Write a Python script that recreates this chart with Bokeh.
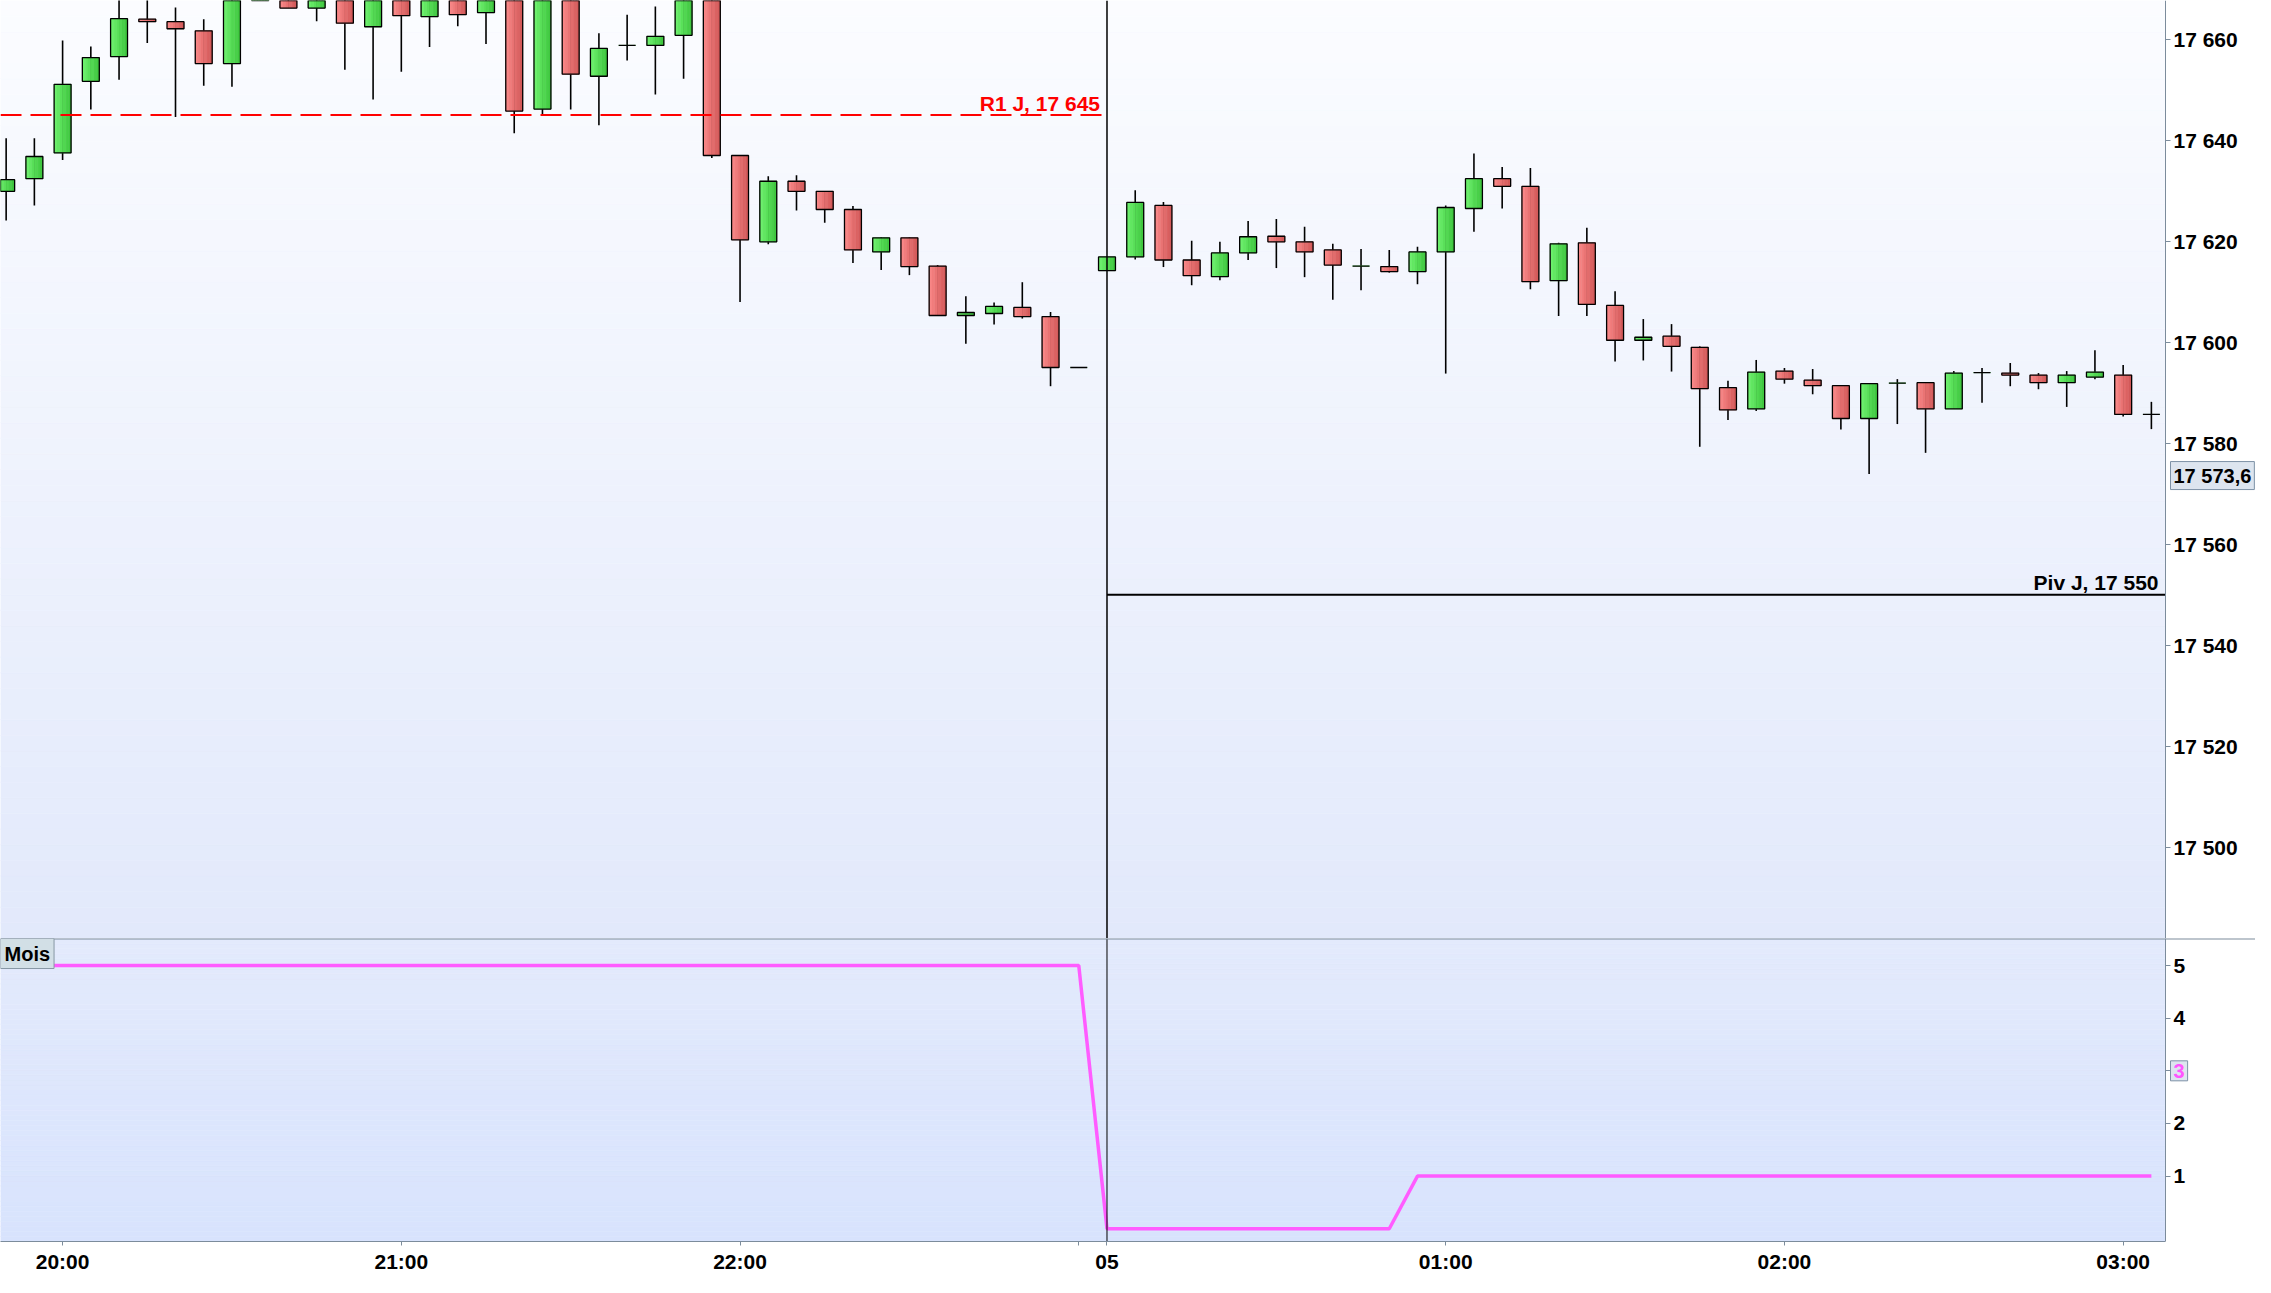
import numpy as np
from bokeh.plotting import figure
from bokeh.models import (Range1d, FixedTicker, CustomJSTickFormatter, Label, Span,
                          LinearAxis)
from bokeh.layouts import column
from bokeh.embed import file_html
from bokeh.resources import INLINE

# ---------------- data ----------------
times = ["19:50", "19:55",
         "20:00", "20:05", "20:10", "20:15", "20:20", "20:25", "20:30", "20:35", "20:40", "20:45", "20:50", "20:55",
         "21:00", "21:05", "21:10", "21:15", "21:20", "21:25", "21:30", "21:35", "21:40", "21:45", "21:50", "21:55",
         "22:00", "22:05", "22:10", "22:15", "22:20", "22:25", "22:30", "22:35", "22:40", "22:45", "22:50", "22:55",
         "23:00",
         "00:00", "00:05", "00:10", "00:15", "00:20", "00:25", "00:30", "00:35", "00:40", "00:45", "00:50", "00:55",
         "01:00", "01:05", "01:10", "01:15", "01:20", "01:25", "01:30", "01:35", "01:40", "01:45", "01:50", "01:55",
         "02:00", "02:05", "02:10", "02:15", "02:20", "02:25", "02:30", "02:35", "02:40", "02:45", "02:50", "02:55",
         "03:00", "03:05"]

opens = [17629.9, 17632.4, 17637.5, 17651.7, 17656.6, 17664.0, 17663.5, 17661.7, 17655.2, 17672.0,
         17674.0, 17666.2, 17672.0, 17662.5, 17675.0, 17664.5, 17671.0, 17665.3, 17674.0, 17646.2,
         17676.0, 17652.7, 17658.8, 17658.8, 17660.8, 17672.0, 17637.0, 17619.9, 17631.9, 17629.9,
         17626.3, 17617.9, 17620.7, 17615.1, 17605.3, 17605.7, 17606.9, 17605.1, 17595.0, 17614.2,
         17616.9, 17627.1, 17616.3, 17613.0, 17617.7, 17621.0, 17619.9, 17618.3, 17615.1, 17615.0,
         17614.0, 17617.9, 17626.5, 17632.4, 17630.9, 17612.2, 17619.7, 17607.3, 17600.4, 17601.2,
         17599.0, 17591.0, 17586.8, 17594.3, 17592.5, 17591.4, 17584.9, 17591.9, 17592.0, 17586.8,
         17594.0, 17593.9, 17593.5, 17592.0, 17593.1, 17593.5, 17585.7]
highs = [17640.4, 17640.4, 17659.8, 17658.6, 17670.0, 17669.0, 17666.3, 17664.0, 17676.0, 17680.0,
         17678.0, 17675.0, 17676.0, 17678.0, 17678.0, 17675.0, 17674.0, 17676.0, 17677.0, 17678.0,
         17680.0, 17661.2, 17664.9, 17666.5, 17674.0, 17675.0, 17637.0, 17632.9, 17633.1, 17629.9,
         17627.0, 17620.8, 17620.8, 17615.3, 17609.1, 17607.9, 17611.9, 17606.0, 17595.0, 17616.9,
         17630.1, 17627.8, 17620.1, 17619.9, 17624.0, 17624.4, 17622.9, 17619.5, 17618.5, 17618.3,
         17618.9, 17627.1, 17637.4, 17634.7, 17634.5, 17619.7, 17622.7, 17610.1, 17604.6, 17603.6,
         17599.2, 17592.4, 17596.5, 17594.9, 17594.7, 17591.5, 17591.8, 17592.7, 17592.0, 17594.3,
         17594.9, 17595.9, 17593.9, 17594.3, 17598.4, 17595.5, 17588.2]
lows = [17624.1, 17627.1, 17636.1, 17646.1, 17652.0, 17659.3, 17644.6, 17650.8, 17650.6, 17669.0,
        17666.2, 17663.6, 17654.0, 17648.1, 17653.6, 17658.5, 17662.6, 17659.1, 17641.4, 17644.9,
        17646.1, 17643.0, 17655.8, 17649.1, 17652.2, 17636.5, 17608.0, 17619.4, 17626.1, 17623.7,
        17615.7, 17614.3, 17613.3, 17605.3, 17599.7, 17603.5, 17604.7, 17591.3, 17595.0, 17614.2,
        17616.4, 17614.9, 17611.3, 17612.3, 17616.3, 17614.7, 17612.9, 17608.4, 17610.3, 17613.8,
        17611.5, 17593.8, 17621.9, 17626.5, 17610.5, 17605.2, 17605.2, 17596.2, 17596.4, 17594.2,
        17579.3, 17584.6, 17586.4, 17591.8, 17589.7, 17582.7, 17573.9, 17583.8, 17578.1, 17586.8,
        17588.0, 17591.3, 17590.7, 17587.2, 17592.7, 17585.3, 17582.8]
closes = [17632.2, 17636.8, 17651.1, 17656.4, 17664.1, 17663.5, 17662.1, 17655.2, 17672.0, 17675.0,
          17666.2, 17672.0, 17663.2, 17674.0, 17664.7, 17672.0, 17664.9, 17673.0, 17645.8, 17675.0,
          17653.1, 17658.2, 17658.8, 17660.6, 17670.0, 17637.0, 17620.3, 17631.9, 17629.9, 17626.3,
          17618.3, 17620.7, 17615.0, 17605.3, 17605.9, 17607.1, 17605.1, 17595.0, 17595.0, 17616.9,
          17627.7, 17616.3, 17613.2, 17617.7, 17620.9, 17619.9, 17617.9, 17615.3, 17615.1, 17614.0,
          17617.9, 17626.7, 17632.4, 17630.9, 17612.0, 17619.5, 17607.5, 17600.4, 17601.0, 17599.2,
          17590.8, 17586.6, 17594.1, 17592.7, 17591.4, 17584.9, 17591.8, 17591.9, 17586.8, 17593.9,
          17594.0, 17593.5, 17592.0, 17593.5, 17594.1, 17585.7, 17585.7]

mois = [5, 5, 5, 5, 5, 5, 5, 5, 5, 5, 5, 5, 5, 5, 5, 5, 5, 5, 5, 5,
        5, 5, 5, 5, 5, 5, 5, 5, 5, 5, 5, 5, 5, 5, 5, 5, 5, 5, 5,
        0, 0, 0, 0, 0, 0, 0, 0, 0, 0, 0,
        1, 1, 1, 1, 1, 1, 1, 1, 1, 1, 1, 1, 1, 1, 1, 1, 1, 1, 1, 1,
        1, 1, 1, 1, 1, 1, 1]

r1_level = 17645
r1_text = "R1 J, 17 645"
piv_level = 17550
piv_text = "Piv J, 17 550"
cursor_price = 17573.6
cursor_mois = 3
price_ticks = [17500, 17520, 17540, 17560, 17580, 17600, 17620, 17640, 17660]
mois_ticks = [1, 2, 3, 4, 5]
xtick_times = ["20:00", "21:00", "22:00", "23:00", "00:00", "01:00", "02:00", "03:00"]
xtick_texts = ["20:00", "21:00", "22:00", "", "05", "01:00", "02:00", "03:00"]

# ---------------- helpers ----------------
FONT = "Liberation Sans"
AX = "#7C8C9C"
x = np.arange(len(times), dtype=float)
o = np.array(opens); h = np.array(highs); l = np.array(lows); c = np.array(closes)
top = np.maximum(o, c); bot = np.minimum(o, c)
up = c >= o
day_start = times.index("00:00")

W = 2255          # total width
RB = 90           # width of the price-scale strip on the right
X0, X1 = -0.2, 76.5                      # visible candle slots
upp = (X1 - X0) / (W - RB)               # data units per pixel
XR = Range1d(X0, X1 + RB * upp)          # frame also covers the scale strip
AXIS_X = X1
PY0, PY1 = 17481.9, 17667.7
MY0, MY1 = -0.243, 5.514


def lerp_col(c0, c1, t):
    return "#%02x%02x%02x" % tuple(int(round(a + (b - a) * t)) for a, b in zip(c0, c1))


def background(p, y0, y1, c_bottom, c_top, n=60):
    edges = np.linspace(y0, y1, n + 1)
    cols = [lerp_col(c_bottom, c_top, (i + 0.5) / n) for i in range(n)]
    p.quad(left=X0, right=AXIS_X, bottom=edges[:-1], top=edges[1:],
           fill_color=cols, line_color=cols, line_width=0.5)
    p.quad(left=[AXIS_X], right=[XR.end], bottom=[y0], top=[y1],
           fill_color="white", line_color=None)


def style_axis(ax, size="21px"):
    ax.axis_line_color = AX
    ax.major_tick_line_color = AX
    ax.major_tick_out = 5
    ax.major_tick_in = 0
    ax.minor_tick_line_color = None
    ax.major_label_text_font = FONT
    ax.major_label_text_font_style = "bold"
    ax.major_label_text_font_size = size
    ax.major_label_text_color = "black"
    ax.major_label_standoff = 3


def box_label(p, y, text, color):
    p.add_layout(Label(x=AXIS_X, y=y, text=text, text_align="left",
                       text_baseline="middle", x_offset=5, text_color=color,
                       text_font=FONT, text_font_style="bold", text_font_size="20px",
                       background_fill_color="#dde5ef", border_line_color="#7d91a6",
                       padding=3))


# ---------------- main price panel ----------------
p1 = figure(width=W, height=938, x_range=XR, y_range=Range1d(PY0, PY1),
            output_backend="svg", toolbar_location=None, x_axis_location=None,
            y_axis_location=None, min_border=0)
p1.grid.visible = False
p1.outline_line_color = None
p1.border_fill_color = "white"
background(p1, PY0, PY1, (226, 233, 251), (251, 252, 255))

# wicks
p1.segment(x0=x, y0=l, x1=x, y1=h, line_color="black", line_width=1.6)

# bodies with horizontal colour gradient
bw = 0.6
ns = 6
g_left, g_right = (108, 240, 108), (64, 200, 64)
r_left, r_right = (248, 134, 134), (212, 90, 90)
for k in range(ns):
    off = -bw / 2 + bw / ns * (k + 0.5)
    t = k / (ns - 1)
    gc = lerp_col(g_left, g_right, t)
    rc = lerp_col(r_left, r_right, t)
    p1.vbar(x=x[up] + off, width=bw / ns, top=top[up], bottom=bot[up],
            fill_color=gc, line_color=gc, line_width=0.6)
    p1.vbar(x=x[~up] + off, width=bw / ns, top=top[~up], bottom=bot[~up],
            fill_color=rc, line_color=rc, line_width=0.6)
p1.vbar(x=x, width=bw, top=top, bottom=bot, fill_color=None,
        line_color="black", line_width=1.3)

# pivot levels
p1.segment(x0=[X0], x1=[day_start], y0=[r1_level], y1=[r1_level],
           line_color="#ff0000", line_width=2, line_dash="21 9")
p1.segment(x0=[day_start], x1=[AXIS_X], y0=[piv_level], y1=[piv_level],
           line_color="black", line_width=2)
p1.add_layout(Label(x=day_start, y=r1_level, text=r1_text, text_align="right",
                    text_baseline="middle", x_offset=-7, y_offset=12,
                    text_color="#ff0000", text_font=FONT, text_font_style="bold",
                    text_font_size="21px"))
p1.add_layout(Label(x=AXIS_X, y=piv_level, text=piv_text, text_align="right",
                    text_baseline="middle", x_offset=-7, y_offset=12,
                    text_color="black", text_font=FONT, text_font_style="bold",
                    text_font_size="21px"))
p1.segment(x0=[day_start], x1=[day_start], y0=[PY0], y1=[PY1],
           line_color="black", line_width=1.5)

yax1 = LinearAxis(fixed_location=AXIS_X, ticker=FixedTicker(ticks=price_ticks),
                  formatter=CustomJSTickFormatter(
                      code="return Math.floor(tick/1000) + ' ' + String(Math.round(tick % 1000)).padStart(3, '0');"))
style_axis(yax1)
p1.add_layout(yax1, "right")

cur_txt = ("%d %05.1f" % (int(cursor_price) // 1000, cursor_price % 1000)).replace(".", ",")
box_label(p1, cursor_price, cur_txt, "black")

# ---------------- lower "Mois" panel ----------------
p2 = figure(width=W, height=337, x_range=XR, y_range=Range1d(MY0, MY1),
            output_backend="svg", toolbar_location=None, y_axis_location=None,
            min_border=0)
p2.grid.visible = False
p2.outline_line_color = None
p2.border_fill_color = "white"
background(p2, MY0, MY1, (216, 227, 253), (227, 234, 252))

p2.line(x=x, y=mois, line_color="#ff5cff", line_width=3.5)
p2.segment(x0=[day_start], x1=[day_start], y0=[MY0], y1=[MY1],
           line_color="black", line_width=1)
p2.add_layout(Span(location=MY1, dimension="width", line_color=AX, line_width=2))

yax2 = LinearAxis(fixed_location=AXIS_X, ticker=FixedTicker(ticks=mois_ticks))
style_axis(yax2)
p2.add_layout(yax2, "right")

xt_idx = [times.index(t) for t in xtick_times]
p2.xaxis.ticker = FixedTicker(ticks=xt_idx)
p2.xaxis.major_label_overrides = {i: s for i, s in zip(xt_idx, xtick_texts)}
p2.xaxis.bounds = (X0, AXIS_X)
style_axis(p2.xaxis[0], size="21px")
p2.xaxis.major_tick_out = 4
p2.xaxis.major_label_standoff = 4

p2.add_layout(Label(x=X0, y=MY1, text="Mois", text_align="left",
                    text_baseline="top", text_color="black", text_font=FONT,
                    text_font_style="bold", text_font_size="20px",
                    background_fill_color="#d2dfe6", border_line_color="#8898a5",
                    padding=4))
box_label(p2, cursor_mois, str(cursor_mois), "#ff55ff")

layout = column(p1, p2, spacing=0)
open("out.html", "w").write(file_html(layout, INLINE))
